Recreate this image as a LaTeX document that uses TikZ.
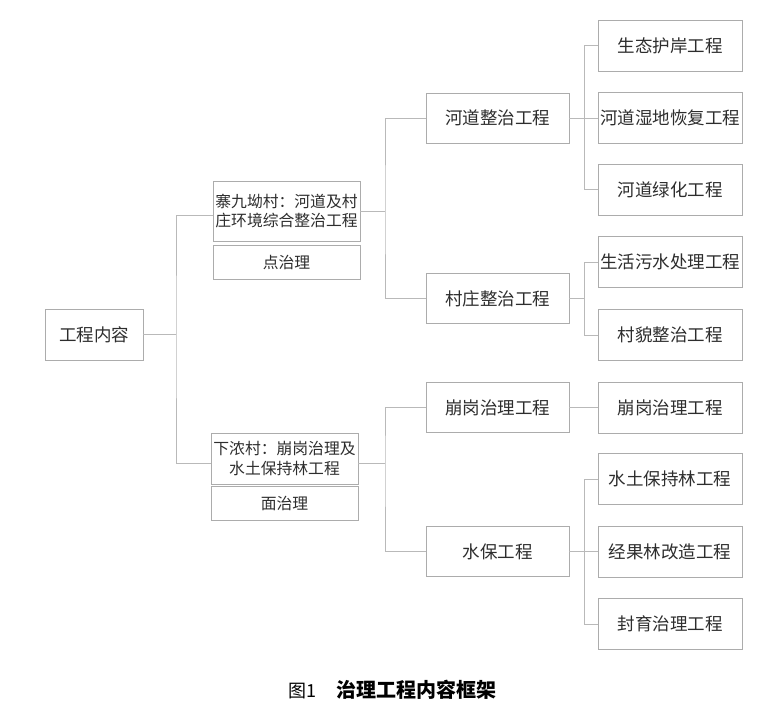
\documentclass[tikz,border=0pt]{standalone}
\usepackage{fontspec}
\setmainfont{Noto Sans CJK SC}
\usetikzlibrary{calc}
\definecolor{boxline}{RGB}{172,172,172}
\definecolor{conn}{RGB}{185,185,185}
\definecolor{txt}{RGB}{45,45,45}
\begin{document}
\begin{tikzpicture}[x=1pt,y=-1pt,
  box/.style={draw=boxline,line width=0.9pt,inner sep=1pt,align=center,text=txt,
    font=\fontsize{17.5}{20}\selectfont},
  midbox/.style={box,minimum width=143pt,minimum height=50pt},
  rbox/.style={box,minimum width=144pt,minimum height=51pt},
  twobox/.style={box,minimum width=147pt,font=\fontsize{15.8}{19.5}\selectfont},
  link/.style={draw=conn,line width=0.9pt}]
\useasboundingbox (0,0) rectangle (775,722);
% root
\node[box,minimum width=98pt,minimum height=51pt] (root) at (94,334.5) {工程内容};
% second level
\node[twobox,minimum height=60pt] (A) at (286.5,211) {寨九坳村：河道及村\\庄环境综合整治工程};
\node[twobox,minimum height=34pt] (A2) at (286.5,262) {点治理};
\node[twobox,minimum height=51pt] (B) at (284.5,458.5) {下浓村：崩岗治理及\\水土保持林工程};
\node[twobox,minimum height=34pt] (B2) at (284.5,503) {面治理};
% third level
\node[midbox] (m1) at (497.5,118) {河道整治工程};
\node[midbox] (m2) at (497.5,298.5) {村庄整治工程};
\node[midbox] (m3) at (497.5,407.5) {崩岗治理工程};
\node[midbox] (m4) at (497.5,551.5) {水保工程};
% fourth level
\node[rbox] (r1) at (670,45.5) {生态护岸工程};
\node[rbox] (r2) at (670,118) {河道湿地恢复工程};
\node[rbox] (r3) at (670,189.5) {河道绿化工程};
\node[rbox] (r4) at (670,262) {生活污水处理工程};
\node[rbox] (r5) at (670,335) {村貌整治工程};
\node[rbox] (r6) at (670,407.5) {崩岗治理工程};
\node[rbox] (r7) at (670,479) {水土保持林工程};
\node[rbox] (r8) at (670,551.5) {经果林改造工程};
\node[rbox] (r9) at (670,624) {封育治理工程};
% junctions
\coordinate (j0) at (176,334.5);
\coordinate (j1) at (385,211);
\coordinate (j2) at (385,463);
\coordinate (j3) at (584,118);
\coordinate (j4) at (584,298.5);
\coordinate (j5) at (584,551.5);
% connectors
\draw[link] (root.east) -- (j0);
\draw[link] ([yshift=-4pt]A.west) -| (j0) |- ([yshift=-4.5pt]B.west);
\draw[link] (A.east) -- (j1);
\draw[link] (m1.west) -| (j1) |- (m2.west);
\draw[link] ([yshift=-4.5pt]B.east) -- (j2);
\draw[link] (m3.west) -| (j2) |- (m4.west);
\draw[link] (m1.east) -- (j3);
\draw[link] (r1.west) -| (j3) |- (r3.west);
\draw[link] (j3) -- (r2.west);
\draw[link] (m2.east) -- (j4);
\draw[link] (r4.west) -| (j4) |- (r5.west);
\draw[link] (m3.east) -- (r6.west);
\draw[link] (m4.east) -- (j5);
\draw[link] (r7.west) -| (j5) |- (r9.west);
\draw[link] (j5) -- (r8.west);
% caption
\node[text=black,inner sep=0pt] (cap) at (392,690) {{\fontsize{18}{20}\selectfont 图1}\hspace{20pt}{\fontsize{20}{22}\selectfont\bfseries 治理工程内容框架}};
\end{tikzpicture}
\end{document}
